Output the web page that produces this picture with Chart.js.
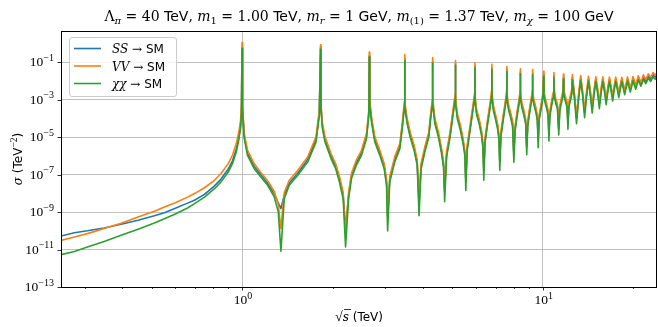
<!DOCTYPE html>
<html>
<head>
<meta charset="utf-8">
<script src="https://cdn.jsdelivr.net/npm/chart.js@4.4.0/dist/chart.umd.min.js"></script>
<style>
  html, body { margin: 0; padding: 0; background: #fff; }
  #wrap { width: 658px; height: 327px; }
</style>
</head>
<body>
<div id="wrap"><canvas id="sigma-chart" width="658" height="327"></canvas></div>
<script>
// sqrt(s) in TeV, shared by the three curves (one row per resonance cycle)
const sqrtS = [
  0.25, 0.277, 0.306, 0.348, 0.396, 0.451, 0.511, 0.552, 0.60, 0.659, 0.695, 0.75, 0.81, 0.85, 0.90, 0.93, 0.957, 0.975, 0.989, 0.996, 1.0,
  1.004, 1.017, 1.043, 1.098, 1.155, 1.216, 1.28, 1.32, 1.347, 1.382, 1.436, 1.531, 1.653, 1.762, 1.808, 1.825,
  1.831, 1.85, 1.888, 1.977, 2.05, 2.109, 2.17, 2.21, 2.262, 2.312, 2.40, 2.497, 2.594, 2.641, 2.65,
  2.66, 2.696, 2.765, 2.873, 2.97, 3.025, 3.05, 3.10, 3.22, 3.35, 3.42, 3.466, 3.475,
  3.483, 3.535, 3.625, 3.735, 3.825, 3.88, 3.94, 4.06, 4.18, 4.235, 4.292, 4.30,
  4.31, 4.38, 4.50, 4.61, 4.68, 4.72, 4.79, 4.92, 5.04, 5.115, 5.125,
  5.135, 5.20, 5.32, 5.43, 5.51, 5.55, 5.61, 5.74, 5.87, 5.94, 5.95,
  5.96, 6.03, 6.15, 6.26, 6.33, 6.37, 6.43, 6.56, 6.69, 6.765, 6.775,
  6.79, 6.86, 6.98, 7.09, 7.16, 7.20, 7.26, 7.39, 7.52, 7.59, 7.60,
  7.615, 7.69, 7.82, 7.94, 8.02, 8.09, 8.22, 8.35, 8.41, 8.425,
  8.44, 8.52, 8.65, 8.78, 8.85, 8.92, 9.05, 9.18, 9.235, 9.25,
  9.27, 9.36, 9.50, 9.60, 9.66, 9.73, 9.88, 10.0, 10.075,
  10.10, 10.2, 10.34, 10.43, 10.49, 10.56, 10.7, 10.83, 10.9,
  10.93, 11.05, 11.2, 11.31, 11.4, 11.55, 11.68, 11.725,
  11.76, 11.9, 12.05, 12.135, 12.22, 12.38, 12.5, 12.55,
  12.75, 12.96, 13.16, 13.375,
  13.58, 13.785, 13.99, 14.2,
  14.4, 14.61, 14.81, 15.025,
  15.23, 15.435, 15.64, 15.85,
  16.05, 16.26, 16.47, 16.675,
  16.88, 17.085, 17.29, 17.5,
  17.7, 17.91, 18.12, 18.325,
  18.53, 18.735, 18.94, 19.15,
  19.35, 19.56, 19.77, 19.975,
  20.18, 20.385, 20.59, 20.8,
  21.0, 21.21, 21.42, 21.625,
  21.83, 22.035, 22.24, 22.45,
  22.65, 22.86, 23.07, 23.275,
  23.48, 23.685, 23.89, 24.1
];

// log10 of sigma (TeV^-2)
const logSigmaSS = [
  -10.28, -10.10, -10.0, -9.85, -9.65, -9.44, -9.2, -9.03, -8.8, -8.52, -8.37, -8.05, -7.6, -7.25, -6.7, -6.25, -5.65, -5.05, -4.4, -3.55, -0.2,
  -3.5, -4.95, -5.85, -6.56, -7.0, -7.45, -8.02, -8.5, -8.81, -8.1, -7.45, -6.92, -6.2, -5.13, -3.7, -0.2,
  -3.4, -4.38, -5.13, -6.0, -6.57, -7.25, -8.1, -9.9, -8.12, -7.07, -6.37, -5.84, -4.95, -3.7, -0.65,
  -3.2, -4.07, -5.13, -5.84, -6.54, -7.42, -9.2, -7.25, -6.2, -5.48, -4.25, -3.3, -0.8,
  -3.3, -4.08, -4.88, -5.58, -6.35, -8.5, -6.55, -5.62, -4.88, -3.97, -3.2, -0.95,
  -3.1, -4.15, -4.86, -5.75, -6.45, -7.8, -5.93, -4.86, -3.6, -2.9, -1.06,
  -3.1, -3.87, -4.47, -5.17, -5.85, -7.2, -5.57, -4.47, -3.37, -2.8, -1.19,
  -3.0, -3.67, -4.17, -4.77, -5.45, -6.75, -5.17, -4.17, -3.27, -2.7, -1.29,
  -2.9, -3.47, -3.97, -4.47, -5.05, -6.3, -4.87, -3.97, -3.17, -2.7, -1.38,
  -2.9, -3.37, -3.82, -4.27, -5.9, -4.57, -3.77, -3.07, -2.7, -1.51,
  -2.8, -3.27, -3.67, -4.17, -5.5, -4.27, -3.57, -2.97, -2.7, -1.58,
  -2.8, -3.17, -3.57, -3.97, -5.2, -3.97, -3.37, -2.87, -1.65,
  -2.68, -3.07, -3.42, -3.77, -4.85, -3.77, -3.22, -2.77, -1.72,
  -2.68, -3.07, -3.37, -4.55, -3.47, -3.02, -2.67, -1.79,
  -2.62, -2.97, -3.27, -4.25, -3.27, -2.87, -2.57, -1.83,
  -2.78, -3.98, -2.88, -1.86,
  -2.68, -3.68, -2.73, -1.9,
  -2.63, -3.45, -2.63, -1.92,
  -2.53, -3.24, -2.53, -1.92,
  -2.44, -3.04, -2.46, -1.92,
  -2.39, -2.87, -2.39, -1.92,
  -2.31, -2.72, -2.33, -1.92,
  -2.27, -2.58, -2.27, -1.9,
  -2.19, -2.46, -2.19, -1.88,
  -2.11, -2.32, -2.09, -1.83,
  -2.01, -2.17, -1.99, -1.78,
  -1.92, -2.03, -1.89, -1.72,
  -1.83, -1.91, -1.79, -1.65,
  -1.74, -1.79, -1.71, -1.59
];

const logSigmaVV = [
  -10.51, -10.33, -10.15, -9.88, -9.6, -9.26, -8.95, -8.73, -8.5, -8.2, -8.01, -7.7, -7.3, -6.95, -6.41, -5.95, -5.34, -4.75, -4.1, -3.2, 0.05,
  -3.3, -4.8, -5.7, -6.42, -6.88, -7.32, -7.9, -8.6, -9.88, -7.95, -7.3, -6.78, -6.06, -4.98, -3.55, -0.06,
  -3.2, -4.22, -4.98, -5.87, -6.43, -7.1, -7.95, -10.1, -7.95, -6.93, -6.22, -5.7, -4.8, -3.55, -0.45,
  -3.0, -3.92, -4.98, -5.7, -6.4, -7.25, -9.3, -7.1, -6.05, -5.33, -4.1, -3.1, -0.59,
  -3.1, -3.93, -4.73, -5.43, -6.2, -8.6, -6.4, -5.48, -4.73, -3.83, -3.0, -0.75,
  -2.9, -4.0, -4.72, -5.6, -6.3, -7.9, -5.78, -4.72, -3.47, -2.7, -0.90,
  -2.9, -3.73, -4.33, -5.03, -5.7, -7.3, -5.43, -4.33, -3.23, -2.6, -1.02,
  -2.8, -3.53, -4.03, -4.63, -5.3, -6.8, -5.03, -4.03, -3.13, -2.5, -1.11,
  -2.7, -3.33, -3.83, -4.33, -4.9, -6.3, -4.73, -3.83, -3.03, -2.5, -1.22,
  -2.7, -3.23, -3.68, -4.12, -5.95, -4.43, -3.63, -2.93, -2.5, -1.34,
  -2.6, -3.13, -3.53, -4.02, -5.55, -4.13, -3.43, -2.83, -2.5, -1.39,
  -2.6, -3.03, -3.43, -3.82, -5.2, -3.83, -3.23, -2.72, -1.48,
  -2.52, -2.93, -3.28, -3.62, -4.85, -3.63, -3.08, -2.62, -1.55,
  -2.52, -2.93, -3.22, -4.55, -3.33, -2.88, -2.52, -1.63,
  -2.48, -2.83, -3.13, -4.25, -3.13, -2.73, -2.43, -1.66,
  -2.63, -3.95, -2.73, -1.71,
  -2.53, -3.65, -2.58, -1.75,
  -2.48, -3.42, -2.48, -1.77,
  -2.38, -3.2, -2.38, -1.78,
  -2.3, -3.0, -2.32, -1.79,
  -2.25, -2.82, -2.25, -1.79,
  -2.18, -2.65, -2.2, -1.8,
  -2.14, -2.5, -2.14, -1.78,
  -2.07, -2.37, -2.07, -1.76,
  -2.0, -2.22, -1.98, -1.72,
  -1.9, -2.07, -1.88, -1.67,
  -1.81, -1.93, -1.78, -1.61,
  -1.72, -1.8, -1.68, -1.55,
  -1.63, -1.68, -1.6, -1.49
];

const logSigmaXX = [
  -11.27, -11.1, -10.86, -10.57, -10.24, -9.92, -9.58, -9.35, -9.1, -8.78, -8.55, -8.2, -7.75, -7.4, -6.86, -6.4, -5.79, -5.15, -4.5, -3.7, -0.27,
  -3.6, -5.08, -5.97, -6.68, -7.13, -7.57, -8.19, -8.99, -11.09, -8.28, -7.57, -7.04, -6.33, -5.26, -3.83, -0.31,
  -3.5, -4.5, -5.26, -6.14, -6.7, -7.39, -8.3, -10.86, -8.28, -7.21, -6.50, -5.97, -5.08, -3.83, -0.72,
  -3.3, -4.19, -5.26, -5.97, -6.68, -7.57, -10.01, -7.39, -6.33, -5.61, -4.37, -3.4, -0.90,
  -3.4, -4.2, -5.0, -5.7, -6.5, -9.19, -6.7, -5.75, -5.0, -4.1, -3.3, -1.04,
  -3.2, -4.28, -4.99, -5.88, -6.6, -8.44, -6.06, -4.99, -3.74, -3.0, -1.16,
  -3.2, -4.0, -4.6, -5.3, -6.0, -7.84, -5.7, -4.6, -3.5, -2.9, -1.29,
  -3.1, -3.8, -4.3, -4.9, -5.6, -7.30, -5.3, -4.3, -3.4, -2.8, -1.39,
  -3.0, -3.6, -4.1, -4.6, -5.2, -6.77, -5.0, -4.1, -3.3, -2.8, -1.48,
  -3.0, -3.5, -3.95, -4.4, -6.34, -4.7, -3.9, -3.2, -2.8, -1.61,
  -2.9, -3.4, -3.8, -4.3, -5.93, -4.4, -3.7, -3.1, -2.8, -1.68,
  -2.9, -3.3, -3.7, -4.1, -5.56, -4.1, -3.5, -3.0, -1.75,
  -2.8, -3.2, -3.55, -3.9, -5.20, -3.9, -3.35, -2.9, -1.82,
  -2.8, -3.2, -3.5, -4.88, -3.6, -3.15, -2.8, -1.89,
  -2.75, -3.1, -3.4, -4.58, -3.4, -3.0, -2.7, -1.93,
  -2.9, -4.28, -3.0, -1.96,
  -2.8, -3.96, -2.85, -2.0,
  -2.75, -3.71, -2.75, -2.02,
  -2.65, -3.48, -2.65, -2.02,
  -2.55, -3.26, -2.58, -2.02,
  -2.5, -3.07, -2.5, -2.02,
  -2.42, -2.89, -2.45, -2.02,
  -2.38, -2.73, -2.38, -2.0,
  -2.3, -2.59, -2.3, -1.98,
  -2.22, -2.44, -2.2, -1.94,
  -2.12, -2.28, -2.1, -1.9,
  -2.03, -2.14, -2.0, -1.84,
  -1.94, -2.02, -1.9, -1.77,
  -1.85, -1.90, -1.82, -1.71
];

// axis ticks
const yTickExps = [-13, -11, -9, -7, -5, -3, -1];
const xMajorTicks = [1, 10];
const xMinorTicks = [0.3, 0.4, 0.5, 0.6, 0.7, 0.8, 0.9, 2, 3, 4, 5, 6, 7, 8, 9, 20];

const SERIF = '"DejaVu Serif", "Liberation Serif", serif';
const SERIF_N = '"Liberation Serif", "DejaVu Serif", serif';
const SANS = '"DejaVu Sans", sans-serif';

function toPoints(logs) {
  return sqrtS.map((x, i) => ({ x: x, y: Math.pow(10, logs[i]) }));
}

// text pieces: [text, font, baseline shift]
function sr(t, size, dy) { return { text: t, font: size + 'px ' + SERIF, dy: dy || 0 }; }
function si(t, size, dy) { return { text: t, font: 'italic ' + size + 'px ' + SERIF, dy: dy || 0 }; }
function tn(t, size, dy) { return { text: t, font: size + 'px ' + SERIF_N, dy: dy || 0 }; }
function ss(t, size, dy) { return { text: t, font: size + 'px ' + SANS, dy: dy || 0 }; }

function drawRuns(ctx, runs, x, y, align) {
  let total = 0;
  runs.forEach(r => { ctx.font = r.font; r.w = ctx.measureText(r.text).width; total += r.w; });
  let cx = x;
  if (align === 'center') cx = x - total / 2;
  if (align === 'right') cx = x - total;
  ctx.textAlign = 'left';
  ctx.textBaseline = 'alphabetic';
  runs.forEach(r => { ctx.font = r.font; ctx.fillText(r.text, cx, y + r.dy); cx += r.w; });
  return total;
}

const T = 14, TS = 10;
const titleRuns = [
  sr('Λ', T), si('π', TS, 3), sr(' = 40 ', T), ss('TeV', T), sr(', ', T),
  si('m', T), sr('1', TS, 3), sr(' = 1.00 ', T), ss('TeV', T), sr(', ', T),
  si('m', T), si('r', TS, 3), sr(' = 1 ', T), ss('GeV', T), sr(', ', T),
  si('m', T), sr('(1)', TS, 3), sr(' = 1.37 ', T), ss('TeV', T), sr(', ', T),
  si('m', T), si('χ', TS, 3), sr(' = 100 ', T), ss('GeV', T)
];

const legendItems = [
  { color: '#1f77b4', runs: [si('SS', 12), sr(' → ', 12), ss('SM', 12)] },
  { color: '#ff7f0e', runs: [si('VV', 12), sr(' → ', 12), ss('SM', 12)] },
  { color: '#2ca02c', runs: [si('χχ', 12), sr(' → ', 12), ss('SM', 12)] }
];

const decorations = {
  id: 'decorations',
  afterDraw(chart) {
    const ctx = chart.ctx;
    const a = chart.chartArea;
    const xs = chart.scales.x, ys = chart.scales.y;
    ctx.save();
    ctx.fillStyle = '#000';
    ctx.strokeStyle = '#000';

    // ticks
    ctx.lineWidth = 0.8;
    ctx.beginPath();
    xMajorTicks.forEach(v => {
      const px = Math.round(xs.getPixelForValue(v)) + 0.5;
      ctx.moveTo(px, a.bottom); ctx.lineTo(px, a.bottom + 3.5);
    });
    xMinorTicks.forEach(v => {
      const px = Math.round(xs.getPixelForValue(v)) + 0.5;
      ctx.moveTo(px, a.bottom); ctx.lineTo(px, a.bottom + 2);
    });
    yTickExps.forEach(e => {
      const py = Math.round(ys.getPixelForValue(Math.pow(10, e))) + 0.5;
      ctx.moveTo(a.left, py); ctx.lineTo(a.left - 3.5, py);
    });
    ctx.stroke();

    // frame
    ctx.lineWidth = 1;
    ctx.strokeRect(Math.round(a.left) + 0.5, Math.round(a.top) + 0.5,
      Math.round(a.right - a.left) - 1, Math.round(a.bottom - a.top));

    // tick labels
    yTickExps.forEach(e => {
      const py = ys.getPixelForValue(Math.pow(10, e));
      drawRuns(ctx, [tn('10', 13.5), tn('−' + (-e), 10, -5.5)], a.left - 7, py + 4, 'right');
    });
    xMajorTicks.forEach((v, i) => {
      const px = xs.getPixelForValue(v);
      drawRuns(ctx, [tn('10', 13.5), tn(String(i), 10, -5.5)], px + 1, a.bottom + 17, 'center');
    });

    // axis titles
    const cx = (a.left + a.right) / 2;
    const w = drawRuns(ctx, [tn('√', 14), si('s', 12), ss(' (TeV)', 12)], cx, 321, 'center');
    ctx.lineWidth = 0.8;
    ctx.beginPath();
    ctx.moveTo(cx - w / 2 + 9, 309.5); ctx.lineTo(cx - w / 2 + 16, 309.5);
    ctx.stroke();

    ctx.save();
    ctx.translate(22, (a.top + a.bottom) / 2);
    ctx.rotate(-Math.PI / 2);
    drawRuns(ctx, [si('σ', 12), ss(' (TeV', 12), tn('−2', 9.5, -5), ss(')', 12)], 0, 0, 'center');
    ctx.restore();

    // title
    drawRuns(ctx, titleRuns, cx, 21, 'center');

    // legend
    const lx = 69.5, ly = 37.5, lw = 107, lh = 59;
    ctx.fillStyle = 'rgba(255,255,255,0.8)';
    ctx.strokeStyle = '#cccccc';
    ctx.lineWidth = 1;
    ctx.beginPath();
    ctx.roundRect(lx, ly, lw, lh, 2.5);
    ctx.fill();
    ctx.stroke();
    legendItems.forEach((item, i) => {
      const yy = 48.5 + i * 17.5;
      ctx.strokeStyle = item.color;
      ctx.lineWidth = 1.6;
      ctx.beginPath();
      ctx.moveTo(74, yy); ctx.lineTo(101, yy);
      ctx.stroke();
      ctx.fillStyle = '#000';
      drawRuns(ctx, item.runs, 112, yy + 4.5, 'left');
    });
    ctx.restore();
  }
};

function createSigmaChart() {
  const canvas = document.querySelector('#sigma-chart');
  const lineStyle = { pointRadius: 0, borderWidth: 1.6, tension: 0, fill: false, borderJoinStyle: 'round' };

  const options = {
    type: 'line',
    data: {
      datasets: [
        Object.assign({ label: 'SS → SM', data: toPoints(logSigmaSS), borderColor: '#1f77b4', order: 3 }, lineStyle),
        Object.assign({ label: 'VV → SM', data: toPoints(logSigmaVV), borderColor: '#ff7f0e', order: 2 }, lineStyle),
        Object.assign({ label: 'χχ → SM', data: toPoints(logSigmaXX), borderColor: '#2ca02c', order: 1 }, lineStyle)
      ]
    },
    options: {
      responsive: false,
      animation: false,
      devicePixelRatio: 1,
      layout: { padding: { left: 61, top: 31, right: 1, bottom: 40 } },
      scales: {
        x: {
          type: 'logarithmic',
          min: 0.25,
          max: 24,
          afterBuildTicks: scale => { scale.ticks = xMajorTicks.map(v => ({ value: v })); },
          ticks: { display: false },
          grid: { color: '#b0b0b0', lineWidth: 0.8, drawTicks: false },
          border: { display: false }
        },
        y: {
          type: 'logarithmic',
          min: 1e-13,
          max: 4.7,
          afterBuildTicks: scale => { scale.ticks = yTickExps.map(e => ({ value: Math.pow(10, e) })); },
          ticks: { display: false },
          grid: { color: '#b0b0b0', lineWidth: 0.8, drawTicks: false },
          border: { display: false }
        }
      },
      plugins: {
        legend: { display: false },
        tooltip: { enabled: false },
        title: { display: false }
      }
    },
    plugins: [decorations]
  };

  new Chart(canvas.getContext('2d'), options);
}

createSigmaChart();
</script>
</body>
</html>
